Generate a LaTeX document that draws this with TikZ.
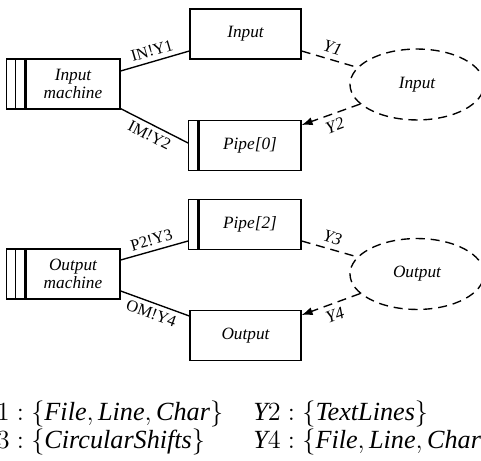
\documentclass[tikz,border=0pt]{standalone}
\usepackage{fontspec}
\setmainfont{Liberation Serif}
\usetikzlibrary{shapes.geometric,arrows.meta,calc}
\begin{document}
\begin{tikzpicture}[x=0.55pt,y=-0.55pt,
  box/.style={draw,line width=0.7pt,minimum height=27.5pt,inner sep=0pt,align=center,
    font=\fontsize{9.5}{9.6}\selectfont\itshape},
  strip/.style={draw,line width=0.7pt,minimum height=27.5pt,minimum width=#1,inner sep=0pt},
  wire/.style={line width=0.75pt},
  dwire/.style={line width=0.75pt,dash pattern=on 5pt off 3.2pt},
  lbl/.style={font=\fontsize{9}{10}\selectfont,sloped,inner sep=2.5pt},
  ylbl/.style={font=\fontsize{9.5}{10}\selectfont\itshape,sloped,inner sep=3pt},
  proc/.style={ellipse,draw,dwire,minimum width=73.7pt,minimum height=39pt,inner sep=0pt,
    font=\fontsize{9.5}{10}\selectfont\itshape},
  tip/.style={-{Latex[length=6pt,width=4.5pt]}},
  eq/.style={font=\Large,anchor=base west,inner sep=0pt}
]
\useasboundingbox (0,0) rectangle (481,461);
\clip (0,0) rectangle (481,461);

% ---------- upper group ----------
\node[box,minimum width=51.7pt] (im) at (73,84) {Input\\machine};
\node[strip=9.9pt,anchor=east] (ims) at (im.west) {};
\draw[line width=0.7pt] (ims.north) -- (ims.south);

\node[box,minimum width=61.05pt] (in1) at (245.5,34) {Input};
\node[box,minimum width=56.1pt] (p0) at (250,145.5) {Pipe[0]};
\node[strip=4.95pt,anchor=east] (p0s) at (p0.west) {};

\node[proc] (e1) at (417,84.5) {Input};

\draw[wire] ($(im.east)+(0,-13)$) -- node[lbl,above] {IN!Y1} ($(in1.west)+(0,17)$);
\draw[wire] ($(im.south east)+(0,-1)$) -- node[lbl,below] {IM!Y2} ($(p0s.west)+(0,-2.5)$);
\draw[dwire] ($(in1.east)+(0,17)$) -- node[ylbl,above] {Y1} (e1.164);
\draw[dwire,tip] (e1.199) -- node[ylbl,below] {Y2} ($(p0.east)+(0,-20.5)$);

% ---------- lower group ----------
\node[box,minimum width=51.7pt] (om) at (73,274) {Output\\machine};
\node[strip=9.9pt,anchor=east] (oms) at (om.west) {};
\draw[line width=0.7pt] (oms.north) -- (oms.south);

\node[box,minimum width=56.1pt] (p2) at (250,224.5) {Pipe[2]};
\node[strip=4.95pt,anchor=east] (p2s) at (p2.west) {};
\node[box,minimum width=61.05pt] (out) at (245.5,335.5) {Output};

\node[proc] (e2) at (417,274) {Output};

\draw[wire] ($(om.east)+(0,-14)$) -- node[lbl,above] {P2!Y3} ($(p2s.west)+(0,16.5)$);
\draw[wire] ($(om.east)+(0,17)$) -- node[lbl,below] {OM!Y4} ($(out.west)+(0,-19.5)$);
\draw[dwire] ($(p2.east)+(0,16.5)$) -- node[ylbl,above] {Y3} (e2.164);
\draw[dwire,tip] (e2.199) -- node[ylbl,below] {Y4} ($(out.east)+(0,-20.5)$);

% ---------- legend ----------
\node[eq] (t1) at (-18,420) {$\textit{Y}1 : \{\textit{File}, \textit{Line}, \textit{Char}\}$};
\node[eq] (t2) at (253,420) {$\textit{Y}2 : \{\textit{TextLines}\}$};
\node[eq] (t3) at (-18,448) {$\textit{Y}3 : \{\textit{CircularShifts}\}$};
\node[eq] (t4) at (253,448) {$\textit{Y}4 : \{\textit{File}, \textit{Line}, \textit{Char}\}$};
\end{tikzpicture}
\end{document}
